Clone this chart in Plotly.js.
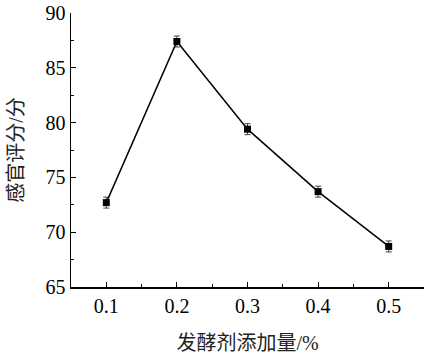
<!DOCTYPE html>
<html><head><meta charset="utf-8">
<script src="https://cdn.plot.ly/plotly-3.0.1.min.js"></script>
<style>html,body{margin:0;padding:0;background:#fff;}#c{width:426px;height:355px;}</style>
</head><body><div id="c"></div>
<script>
const dosage = [0.1, 0.2, 0.3, 0.4, 0.5];
const score = [72.7, 87.4, 79.4, 73.7, 68.7];
const scoreErr = [0.5, 0.5, 0.5, 0.5, 0.5];
const xTicks = [0.1, 0.2, 0.3, 0.4, 0.5];
const xTickText = ['0.1', '0.2', '0.3', '0.4', '0.5'];
const yTicks = [65, 70, 75, 80, 85, 90];

const serif = 'Liberation Serif, Times New Roman, Noto Sans CJK SC, serif';
const trace = {
  x: dosage, y: score, type: 'scatter', mode: 'lines+markers',
  line: {color: '#000', width: 1.5},
  marker: {symbol: 'square', size: 7, color: '#000'},
  error_y: {type: 'data', array: scoreErr, visible: true, color: '#444', thickness: 1, width: 3}
};
const layout = {
  width: 426, height: 355,
  margin: {l: 71, r: 2, t: 13, b: 68},
  paper_bgcolor: '#fff', plot_bgcolor: '#fff',
  showlegend: false,
  xaxis: {
    range: [0.05, 0.55], tickvals: xTicks, ticktext: xTickText,
    ticks: 'inside', ticklen: 5, tickcolor: '#000', tickwidth: 1,
    minor: {dtick: 0.1, tick0: 0.05, ticks: 'inside', ticklen: 3, tickcolor: '#000'},
    showline: true, linecolor: '#000', linewidth: 1.5, showgrid: false, zeroline: false,
    tickfont: {family: serif, size: 20, color: '#000'},
    title: {text: '发酵剂添加量/%', font: {family: serif, size: 20, color: '#222'}, standoff: 20}
  },
  yaxis: {
    range: [65, 90], tickvals: yTicks,
    ticks: 'inside', ticklen: 5, tickcolor: '#000', tickwidth: 1,
    minor: {dtick: 5, tick0: 67.5, ticks: 'inside', ticklen: 3, tickcolor: '#000'},
    showline: true, linecolor: '#000', linewidth: 1.5, showgrid: false, zeroline: false,
    tickfont: {family: serif, size: 20, color: '#000'},
    title: {text: '感官评分/分', font: {family: serif, size: 20, color: '#222'}, standoff: 16}
  }
};
Plotly.newPlot('c', [trace], layout, {staticPlot: true, displayModeBar: false});
</script></body></html>
